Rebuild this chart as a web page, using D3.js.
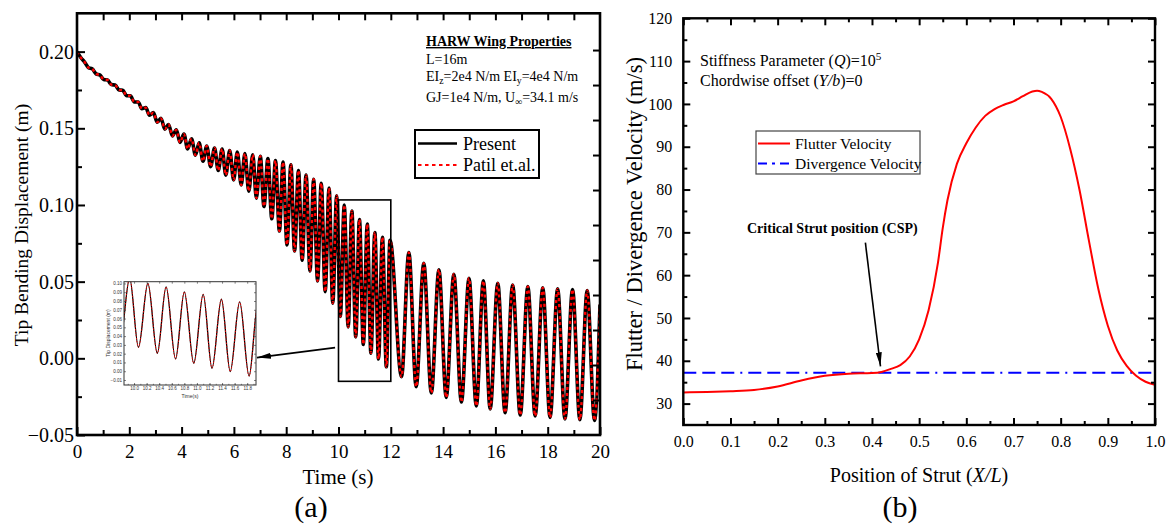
<!DOCTYPE html>
<html>
<head>
<meta charset="utf-8">
<script src="https://cdn.jsdelivr.net/npm/d3@7"></script>
<style>
  body { margin: 0; background: #fff; }
  svg { display: block; font-family: "Liberation Serif", "Times New Roman", serif; }
</style>
</head>
<body>
<svg id="chart" width="1168" height="529"></svg>
<script>
// ---- panel (a): tip bending displacement, extrema ----
const startPoint = [[0, 0.2000]];
const earlyPeaks = [
  [0.29, 0.1932], [0.58, 0.1888], [0.88, 0.1847], [1.17, 0.1815], [1.46, 0.1782],
  [1.75, 0.1748], [2.04, 0.1712], [2.34, 0.1672], [2.63, 0.1635], [2.92, 0.1602],
  [3.21, 0.1565], [3.50, 0.1525], [3.80, 0.1490], [4.09, 0.1462], [4.38, 0.1432],
  [4.67, 0.1405], [4.96, 0.1385], [5.26, 0.1372], [5.55, 0.1365], [5.84, 0.1355],
  [6.13, 0.1345], [6.42, 0.1335], [6.72, 0.1328], [7.01, 0.1318], [7.30, 0.1302],
  [7.59, 0.1290], [7.88, 0.1280], [8.18, 0.1262], [8.47, 0.1225], [8.76, 0.1195],
  [9.05, 0.1168], [9.34, 0.1142], [9.64, 0.1110], [9.93, 0.1060], [10.22, 0.1000],
  [10.51, 0.0960], [10.80, 0.0905], [11.10, 0.0875], [11.39, 0.0820], [11.68, 0.0790],
  [11.97, 0.0770]
];
const earlyTroughs = [
  [0.15, 0.1960], [0.44, 0.1895], [0.73, 0.1855], [1.02, 0.1818], [1.31, 0.1785],
  [1.61, 0.1750], [1.90, 0.1712], [2.19, 0.1672], [2.48, 0.1628], [2.77, 0.1585],
  [3.07, 0.1540], [3.36, 0.1495], [3.65, 0.1450], [3.94, 0.1408], [4.23, 0.1365],
  [4.53, 0.1325], [4.82, 0.1285], [5.11, 0.1250], [5.40, 0.1225], [5.69, 0.1195],
  [5.99, 0.1164], [6.28, 0.1130], [6.57, 0.1090], [6.86, 0.1045], [7.15, 0.0990],
  [7.45, 0.0910], [7.74, 0.0830], [8.03, 0.0740], [8.32, 0.0700], [8.61, 0.0640],
  [8.91, 0.0570], [9.20, 0.0505], [9.49, 0.0435], [9.78, 0.0360], [10.07, 0.0273],
  [10.37, 0.0205], [10.66, 0.0140], [10.95, 0.0090], [11.24, 0.0034], [11.53, -0.0004],
  [11.83, -0.0055]
];
const latePeaks = [
  [12.69, 0.0690], [13.26, 0.0620], [13.84, 0.0578], [14.41, 0.0548], [14.99, 0.0522],
  [15.54, 0.0505], [16.09, 0.0490], [16.66, 0.0478], [17.24, 0.0468], [17.81, 0.0460],
  [18.38, 0.0453], [18.95, 0.0449], [19.51, 0.0442]
];
const lateTroughs = [
  [12.41, -0.0120], [12.97, -0.0185], [13.55, -0.0225], [14.12, -0.0255], [14.70, -0.0285],
  [15.27, -0.0310], [15.80, -0.0330], [16.37, -0.0355], [16.95, -0.0370], [17.52, -0.0375],
  [18.09, -0.0385], [18.66, -0.0395], [19.23, -0.0400], [19.79, -0.0405]
];
const endPoint = [[20, 0.035]];

const timeTicks = [0, 2, 4, 6, 8, 10, 12, 14, 16, 18, 20];
const dispTicks = [-0.05, 0.00, 0.05, 0.10, 0.15, 0.20];
const insetTimeTicks = [10.0, 10.2, 10.4, 10.6, 10.8, 11.0, 11.2, 11.4, 11.6, 11.8];
const insetDispTicks = [-0.01, 0.00, 0.01, 0.02, 0.03, 0.04, 0.05, 0.06, 0.07, 0.08, 0.09, 0.10];

// ---- panel (b): flutter / divergence velocity vs strut position ----
const strutPos = [0.00, 0.05, 0.10, 0.15, 0.20, 0.25, 0.30, 0.35, 0.40, 0.42, 0.44, 0.46, 0.48,
  0.50, 0.52, 0.54, 0.55, 0.56, 0.58, 0.60, 0.62, 0.64, 0.66, 0.68, 0.70, 0.72, 0.74, 0.75,
  0.76, 0.78, 0.80, 0.82, 0.84, 0.86, 0.88, 0.90, 0.92, 0.94, 0.96, 0.98, 1.00];
const flutterVel = [32.6, 32.7, 32.9, 33.2, 34.0, 35.4, 36.5, 37.0, 37.15, 37.4, 38.1, 39.0, 41.0,
  45.0, 51.8, 63.0, 71.0, 77.5, 86.0, 90.8, 94.5, 97.2, 98.8, 99.8, 100.6, 101.8, 102.9, 103.1,
  102.8, 101.2, 97.0, 89.6, 79.9, 68.0, 56.7, 48.2, 42.4, 38.8, 36.5, 35.1, 34.4];
const divergencePos = [0, 1];
const divergenceVel = [37.2, 37.2];

const posTicks = [0.0, 0.1, 0.2, 0.3, 0.4, 0.5, 0.6, 0.7, 0.8, 0.9, 1.0];
const velTicks = [30, 40, 50, 60, 70, 80, 90, 100, 110, 120];

const SERIF = '"Liberation Serif", "Times New Roman", serif';
const SANS = '"Liberation Sans", Arial, sans-serif';

const svg = d3.select("#chart");

const defs = svg.append("defs");
defs.append("marker")
    .attr("id", "arrow")
    .attr("viewBox", "0 0 14 6")
    .attr("refX", 14).attr("refY", 3)
    .attr("markerWidth", 14).attr("markerHeight", 6)
    .attr("markerUnits", "userSpaceOnUse")
    .attr("orient", "auto")
    .append("path").attr("d", "M0,0 L14,3 L0,6 Z").attr("fill", "#000");

// text with sub/sup/italic/bold pieces
function richText(g, x, y, parts, size, extra) {
    const t = g.append("text").attr("x", x).attr("y", y)
        .style("font-size", size + "px").attr("fill", "#000");
    if (extra) extra(t);
    let shift = 0;
    parts.forEach(([s, kind]) => {
        const sp = t.append("tspan").text(s);
        let target = 0;
        if (kind === "sub") { target = size * 0.28; sp.style("font-size", (size * 0.7) + "px"); }
        if (kind === "sup") { target = -size * 0.4; sp.style("font-size", (size * 0.7) + "px"); }
        if (kind === "i") sp.style("font-style", "italic");
        if (kind === "b") sp.style("font-weight", "bold");
        if (target !== shift) { sp.attr("dy", target - shift); shift = target; }
    });
    return t;
}

// ======================= panel (a) =======================
const xA = d3.scaleLinear().domain([0, 20]).range([77, 600]);
const yA = d3.scaleLinear().domain([-0.05, 0.225]).range([435, 13.3]);
const yA2 = d3.scaleLinear().domain([0, 12.05]).range([435, 13.3]);

const gA = svg.append("g");

defs.append("clipPath").attr("id", "clipA").append("rect")
    .attr("x", xA(0)).attr("y", yA(0.225)).attr("width", xA(20) - xA(0)).attr("height", yA(-0.05) - yA(0.225));

const present = [...startPoint, ...earlyPeaks, ...earlyTroughs, ...latePeaks, ...lateTroughs, ...endPoint]
    .sort((a, b) => a[0] - b[0]);
const patil = present.map(d => [d[0], d[1]]);

function drawSeries(g, sx, sy, clip, wBlack, wRed, dash) {
    const line = d3.line().x(d => sx(d[0])).y(d => sy(d[1])).curve(d3.curveMonotoneX);
    const c = g.append("g").attr("clip-path", `url(#${clip})`);
    c.append("path").datum(present).attr("d", line)
        .attr("fill", "none").attr("stroke", "#000").attr("stroke-width", wBlack).attr("stroke-linejoin", "round");
    c.append("path").datum(patil).attr("d", line)
        .attr("fill", "none").attr("stroke", "#ff0000").attr("stroke-width", wRed).attr("stroke-dasharray", dash);
}
drawSeries(gA, xA, yA, "clipA", 3.6, 2.4, "3,3");

// axes, ticks inward
gA.append("g").attr("transform", `translate(0,${yA(-0.05)})`)
    .call(d3.axisBottom(xA).tickValues(d3.range(1, 20, 2)).tickSize(-5).tickFormat(""));
gA.append("g").attr("transform", `translate(0,${yA(-0.05)})`)
    .call(d3.axisBottom(xA).tickValues(timeTicks).tickSize(-8).tickPadding(10).tickFormat(d3.format("d")))
    .selectAll("text").style("font-size", "19px");
gA.append("g").attr("transform", `translate(${xA(0)},0)`)
    .call(d3.axisLeft(yA).tickValues([-0.025, 0.025, 0.075, 0.125, 0.175]).tickSize(-5).tickFormat(""));
gA.append("g").attr("transform", `translate(${xA(0)},0)`)
    .call(d3.axisLeft(yA).tickValues(dispTicks).tickSize(-8).tickPadding(3)
        .tickFormat(d => d < 0 ? "\u2212" + d3.format(".2f")(-d) : d3.format(".2f")(d)))
    .selectAll("text").style("font-size", "20px");
gA.append("g").attr("transform", `translate(0,${yA(0.225)})`)
    .call(d3.axisTop(xA).tickValues(d3.range(1, 20)).tickSize(-7).tickFormat(""));
gA.append("g").attr("transform", `translate(${xA(20)},0)`)
    .call(d3.axisRight(yA2).tickValues(d3.range(1, 12)).tickSize(-7).tickFormat(""));
gA.selectAll(".domain").remove();
gA.selectAll(".tick line").attr("stroke", "#000").attr("stroke-width", 2);
gA.selectAll(".tick text").attr("fill", "#000").attr("font-family", SERIF).style("font-family", SERIF);

gA.append("rect").attr("x", xA(0)).attr("y", yA(0.225))
    .attr("width", xA(20) - xA(0)).attr("height", yA(-0.05) - yA(0.225))
    .attr("fill", "none").attr("stroke", "#000").attr("stroke-width", 2.6);

// zoom window and arrow to the inset
gA.append("rect").attr("x", xA(10)).attr("y", yA(0.1033))
    .attr("width", xA(12) - xA(10)).attr("height", yA(-0.015) - yA(0.1033))
    .attr("fill", "none").attr("stroke", "#000").attr("stroke-width", 1.6);
gA.append("line")
    .attr("x1", xA(9.87)).attr("y1", yA(0.007))
    .attr("x2", xA(6.88)).attr("y2", yA(0.0005))
    .attr("stroke", "#000").attr("stroke-width", 1.8).attr("marker-end", "url(#arrow)");

// inset
const xI = d3.scaleLinear().domain([9.84, 11.94]).range([124, 256]);
const yI = d3.scaleLinear().domain([-0.0157, 0.102]).range([385, 281.7]);
defs.append("clipPath").attr("id", "clipI").append("rect")
    .attr("x", 124).attr("y", 281.7).attr("width", 132).attr("height", 103.3);
const gI = gA.append("g");
gI.append("rect").attr("x", 124).attr("y", 281.7).attr("width", 132).attr("height", 103.3).attr("fill", "#fff");
drawSeries(gI, xI, yI, "clipI", 1.3, 0.9, "1.5,1.5");
gI.append("g").attr("transform", `translate(0,${yI.range()[0]})`)
    .call(d3.axisBottom(xI).tickValues(insetTimeTicks).tickSize(-2).tickPadding(2).tickFormat(d3.format(".1f")));
gI.append("g").attr("transform", `translate(0,${yI.range()[0]})`)
    .call(d3.axisBottom(xI).tickValues(d3.range(9.9, 11.95, 0.1)).tickSize(-1.2).tickFormat(""));
gI.append("g").attr("transform", `translate(${xI.range()[0]},0)`)
    .call(d3.axisLeft(yI).tickValues(insetDispTicks).tickSize(-2).tickPadding(2).tickFormat(d3.format(".2f")));
gI.append("g").attr("transform", `translate(0,${yI.range()[1]})`)
    .call(d3.axisTop(xI).tickValues(insetTimeTicks).tickSize(-2).tickFormat(""));
gI.append("g").attr("transform", `translate(${xI.range()[1]},0)`)
    .call(d3.axisRight(yI).tickValues(insetDispTicks).tickSize(-2).tickFormat(""));
gI.selectAll(".domain").remove();
gI.selectAll(".tick line").attr("stroke", "#333").attr("stroke-width", 0.6);
gI.selectAll(".tick text").attr("fill", "#333").style("font-size", "4.5px").style("font-family", SANS);
gI.append("rect").attr("x", 124).attr("y", 281.7).attr("width", 132).attr("height", 103.3)
    .attr("fill", "none").attr("stroke", "#333").attr("stroke-width", 1);
gI.append("text").attr("x", 190).attr("y", 398).attr("text-anchor", "middle")
    .style("font-size", "5px").style("font-family", SANS).attr("fill", "#333").text("Time(s)");
gI.append("text").attr("transform", "translate(110,333) rotate(-90)").attr("text-anchor", "middle")
    .style("font-size", "5px").style("font-family", SANS).attr("fill", "#333").text("Tip Displacement (m)");

// titles
gA.append("text").attr("transform", "translate(28,225) rotate(-90)").attr("text-anchor", "middle")
    .style("font-size", "19.5px").attr("fill", "#000").text("Tip Bending Displacement (m)");
gA.append("text").attr("x", 338).attr("y", 484).attr("text-anchor", "middle")
    .style("font-size", "21px").attr("fill", "#000").text("Time (s)");
gA.append("text").attr("x", 311).attr("y", 517).attr("text-anchor", "middle")
    .style("font-size", "30px").attr("fill", "#000").text("(a)");

// properties note
richText(gA, 426, 46, [["HARW Wing Properties", "b"]], 14, t => t.style("text-decoration", "underline"));
richText(gA, 426, 63.5, [["L=16m"]], 14);
richText(gA, 426, 80.5, [["EI"], ["z", "sub"], ["=2e4 N/m EI"], ["y", "sub"], ["=4e4 N/m"]], 14);
richText(gA, 426, 101.5, [["GJ=1e4 N/m, U"], ["\u221e", "sub"], ["=34.1 m/s"]], 14);

// legend (a)
const legA = gA.append("g");
legA.append("rect").attr("x", 415).attr("y", 130).attr("width", 124).attr("height", 48)
    .attr("fill", "#fff").attr("stroke", "#000").attr("stroke-width", 2);
legA.append("line").attr("x1", 418).attr("x2", 457).attr("y1", 143.5).attr("y2", 143.5)
    .attr("stroke", "#000").attr("stroke-width", 2.6);
legA.append("line").attr("x1", 418).attr("x2", 457).attr("y1", 165).attr("y2", 165)
    .attr("stroke", "#ff0000").attr("stroke-width", 2.2).attr("stroke-dasharray", "3.5,3.5");
legA.append("text").attr("x", 463).attr("y", 149.5).style("font-size", "18px").attr("fill", "#000").text("Present");
legA.append("text").attr("x", 463).attr("y", 171).style("font-size", "18px").attr("fill", "#000").text("Patil et.al.");

// ======================= panel (b) =======================
const xB = d3.scaleLinear().domain([0, 1]).range([683.3, 1155]);
const yB = d3.scaleLinear().domain([25, 120]).range([425, 18.3]);
const gB = svg.append("g");

defs.append("clipPath").attr("id", "clipB").append("rect")
    .attr("x", xB(0)).attr("y", yB(120)).attr("width", xB(1) - xB(0)).attr("height", yB(25) - yB(120));

const cB = gB.append("g").attr("clip-path", "url(#clipB)");
const divLine = d3.line().x((d, i) => xB(divergencePos[i])).y(d => yB(d));
cB.append("path").datum(divergenceVel).attr("d", divLine)
    .attr("fill", "none").attr("stroke", "#0000ff").attr("stroke-width", 2)
    .attr("stroke-dasharray", "13,6,13,6,13,6,2,6");
const flutLine = d3.line().x((d, i) => xB(strutPos[i])).y(d => yB(d)).curve(d3.curveMonotoneX);
cB.append("path").datum(flutterVel).attr("d", flutLine)
    .attr("fill", "none").attr("stroke", "#ff0000").attr("stroke-width", 2);

gB.append("g").attr("transform", `translate(0,${yB(25)})`)
    .call(d3.axisBottom(xB).tickValues(d3.range(0.05, 1, 0.1)).tickSize(-4).tickFormat(""));
gB.append("g").attr("transform", `translate(0,${yB(25)})`)
    .call(d3.axisBottom(xB).tickValues(posTicks).tickSize(-7).tickPadding(11).tickFormat(d3.format(".1f")))
    .selectAll("text").style("font-size", "16px");
gB.append("g").attr("transform", `translate(${xB(0)},0)`)
    .call(d3.axisLeft(yB).tickValues(d3.range(35, 120, 10)).tickSize(-4).tickFormat(""));
gB.append("g").attr("transform", `translate(${xB(0)},0)`)
    .call(d3.axisLeft(yB).tickValues(velTicks).tickSize(-7).tickPadding(11).tickFormat(d3.format("d")))
    .selectAll("text").style("font-size", "16px");
gB.append("g").attr("transform", `translate(0,${yB(120)})`)
    .call(d3.axisTop(xB).tickValues(d3.range(0.05, 1, 0.1)).tickSize(-4).tickFormat(""));
gB.append("g").attr("transform", `translate(0,${yB(120)})`)
    .call(d3.axisTop(xB).tickValues(posTicks).tickSize(-7).tickFormat(""));
gB.append("g").attr("transform", `translate(${xB(1)},0)`)
    .call(d3.axisRight(yB).tickValues(d3.range(35, 120, 10)).tickSize(-4).tickFormat(""));
gB.append("g").attr("transform", `translate(${xB(1)},0)`)
    .call(d3.axisRight(yB).tickValues(velTicks).tickSize(-7).tickFormat(""));
gB.selectAll(".domain").remove();
gB.selectAll(".tick line").attr("stroke", "#000").attr("stroke-width", 2);
gB.selectAll(".tick text").attr("fill", "#000").attr("font-family", SERIF).style("font-family", SERIF);

gB.append("rect").attr("x", xB(0)).attr("y", yB(120))
    .attr("width", xB(1) - xB(0)).attr("height", yB(25) - yB(120))
    .attr("fill", "none").attr("stroke", "#000").attr("stroke-width", 2.4);

// notes
richText(gB, 700, 66, [["Stiffness Parameter ("], ["Q", "i"], [")=10"], ["5", "sup"]], 16);
richText(gB, 700, 86, [["Chordwise offset ("], ["Y/b", "i"], [")=0"]], 16);
richText(gB, 747, 233, [["Critical Strut position (CSP)", "b"]], 14);
gB.append("line")
    .attr("x1", xB(0.386)).attr("y1", yB(67.6))
    .attr("x2", xB(0.418)).attr("y2", yB(38.7))
    .attr("stroke", "#000").attr("stroke-width", 1.6).attr("marker-end", "url(#arrow)");

// legend (b)
const legB = gB.append("g");
legB.append("rect").attr("x", 756).attr("y", 131).attr("width", 164).attr("height", 43)
    .attr("fill", "#fff").attr("stroke", "#444").attr("stroke-width", 1.2);
legB.append("line").attr("x1", 758).attr("x2", 790).attr("y1", 143.5).attr("y2", 143.5)
    .attr("stroke", "#ff0000").attr("stroke-width", 2);
legB.append("line").attr("x1", 758).attr("x2", 790).attr("y1", 163.5).attr("y2", 163.5)
    .attr("stroke", "#0000ff").attr("stroke-width", 2).attr("stroke-dasharray", "9,5,3,5,9");
legB.append("text").attr("x", 795).attr("y", 148.5).style("font-size", "15.5px").attr("fill", "#000").text("Flutter Velocity");
legB.append("text").attr("x", 795).attr("y", 168.5).style("font-size", "15.5px").attr("fill", "#000").text("Divergence Velocity");

// titles
gB.append("text").attr("transform", "translate(642,214) rotate(-90)").attr("text-anchor", "middle")
    .style("font-size", "22.5px").attr("fill", "#000").text("Flutter / Divergence Velocity (m/s)");
richText(gB, 919, 482, [["Position of Strut ("], ["X/L", "i"], [")"]], 20, t => t.attr("text-anchor", "middle"));
gB.append("text").attr("x", 900).attr("y", 517).attr("text-anchor", "middle")
    .style("font-size", "30px").attr("fill", "#000").text("(b)");
</script>
</body>
</html>
